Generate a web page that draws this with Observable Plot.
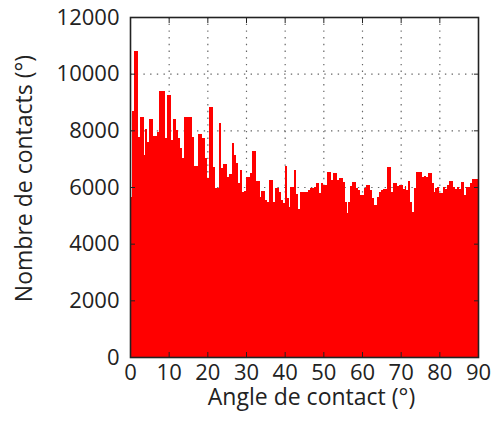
<!DOCTYPE html>
<html><head><meta charset="utf-8">
<script src="https://cdn.jsdelivr.net/npm/d3@7"></script>
<script src="https://cdn.jsdelivr.net/npm/@observablehq/plot@0.6"></script>
<style>body{margin:0;background:#fff}</style>
</head><body><div id="chart"></div>
<script>
// Histogram of contact angles, 0.5° bins from 0° to 90°
const binWidth = 0.5;
const counts = [
  5650, 8700, 10810, 10810, 7760, 8470, 8470, 7130, 8050, 7590,
  8400, 8400, 7800, 7800, 7940, 9400, 9400, 9400, 7730, 9250,
  9250, 7660, 8400, 8400, 8010, 7730, 7380, 7020, 8470, 8470,
  8470, 8470, 7770, 6740, 6740, 7870, 7870, 7730, 7730, 7020,
  6320, 8820, 8820, 6710, 5960, 5960, 8260, 6670, 6810, 6810,
  6350, 6460, 6460, 7550, 7130, 6850, 6140, 6600, 5820, 5870,
  6360, 6360, 6500, 7270, 7270, 6220, 6220, 5660, 5860, 5860,
  5540, 5480, 6250, 6250, 5480, 5960, 5960, 5830, 5540, 5430,
  6740, 5610, 5300, 6000, 6000, 6600, 5750, 5220, 5830, 5830,
  5830, 5830, 5890, 5970, 5970, 6000, 6150, 6150, 5790, 6130,
  6070, 6070, 6530, 6530, 6250, 6500, 6500, 6250, 6320, 6320,
  6190, 5480, 5090, 5480, 6030, 6190, 6190, 5950, 5890, 5720,
  5720, 5950, 6070, 6070, 5890, 5610, 5360, 5360, 5660, 5830,
  5890, 5920, 5920, 6690, 6690, 5830, 6130, 6130, 6030, 6070,
  6070, 5920, 6030, 5890, 6220, 5480, 5130, 5950, 6540, 6540,
  6540, 6360, 6390, 6340, 6480, 6480, 6150, 5830, 5950, 6000,
  5780, 5780, 6000, 5920, 6070, 6220, 6220, 6000, 5920, 6000,
  5920, 6190, 6190, 5720, 6000, 6000, 6150, 6270, 6270, 6300
];
const xTicks = [0, 10, 20, 30, 40, 50, 60, 70, 80, 90];
const yTicks = [0, 2000, 4000, 6000, 8000, 10000, 12000];
const xLabel = "Angle de contact (°)";
const yLabel = "Nombre de contacts (°)";

const bins = counts.map((c, i) => ({x1: i * binWidth, x2: (i + 1) * binWidth, y: c}));

const chart = Plot.plot({
  width: 494,
  height: 421,
  marginLeft: 130,
  marginRight: 16,
  marginTop: 17,
  marginBottom: 64,
  style: {fontFamily: "'Open Sans', sans-serif", fontSize: "22px", color: "#222", background: "#fff", overflow: "visible"},
  x: {domain: [0, 90]},
  y: {domain: [0, 12000]},
  marks: [
    Plot.gridX(xTicks.slice(1, -1), {stroke: "#666", strokeOpacity: 1, strokeWidth: 1.2, strokeDasharray: "1.4,5.3"}),
    Plot.gridY(yTicks.slice(1, -1), {stroke: "#666", strokeOpacity: 1, strokeWidth: 1.2, strokeDasharray: "1.4,5.3"}),
    Plot.rectY(bins, {x1: "x1", x2: "x2", y: "y", fill: "#ff0000", inset: 0, shapeRendering: "crispEdges"}),
    Plot.axisX(xTicks, {anchor: "bottom", tickSize: -5, tickPadding: 12, tickFormat: "d", label: null, stroke: "#222", fontSize: 22}),
    Plot.axisY(yTicks, {anchor: "left", tickSize: -5, tickPadding: 16, tickFormat: "d", label: null, stroke: "#222", fontSize: 22}),
    Plot.axisX(xTicks, {anchor: "top", tickSize: -5, tickFormat: () => "", label: null, stroke: "#222"}),
    Plot.axisY(yTicks, {anchor: "right", tickSize: -5, tickFormat: () => "", label: null, stroke: "#222"}),
    Plot.frame({stroke: "#222", strokeWidth: 1.6}),
    Plot.text([xLabel], {frameAnchor: "bottom", textAnchor: "middle", lineAnchor: "top", dy: 31, dx: 7, fill: "#222", fontSize: 23}),
    Plot.text([yLabel], {frameAnchor: "left", textAnchor: "middle", rotate: -90, lineAnchor: "top", dx: -115, dy: -9, fill: "#222", fontSize: 23})
  ]
});
document.getElementById("chart").append(chart);
</script>
</body></html>
